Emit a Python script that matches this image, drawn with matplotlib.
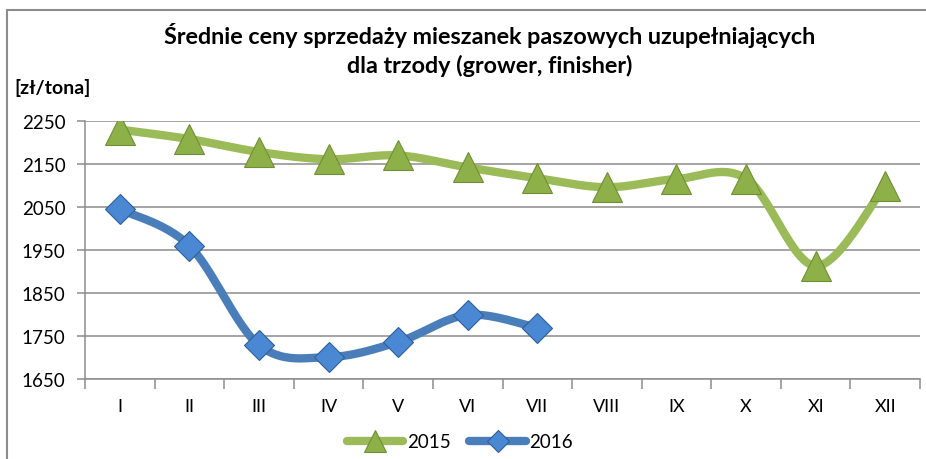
import matplotlib
matplotlib.use("Agg")
import matplotlib.pyplot as plt
import numpy as np
from matplotlib.lines import Line2D
from matplotlib.patches import Rectangle

plt.rcParams['font.family'] = ['Lato', 'DejaVu Sans']

months = ['I', 'II', 'III', 'IV', 'V', 'VI', 'VII', 'VIII', 'IX', 'X', 'XI', 'XII']
prices_2015 = [2230, 2208, 2178, 2161, 2170, 2142, 2117, 2096, 2115, 2116, 1913, 2100]
prices_2016 = [2045, 1960, 1729, 1701, 1736, 1799, 1769]

GREEN = '#9BBB59'
GREEN_DARK = '#6F8F34'
GREEN_MARK = '#8DB048'
BLUE = '#4A7EBB'
BLUE_DARK = '#2E5F99'
BLUE_MARK = '#4A88D4'


def smooth(ax, xs, ys, n=30):
    # excel-like smoothing, done in pixel space
    pts = ax.transData.transform(np.column_stack([xs, ys]))
    out = [pts[0]]
    for i in range(len(pts) - 1):
        p0 = pts[i - 1] if i > 0 else pts[i]
        p1 = pts[i]
        p2 = pts[i + 1]
        p3 = pts[i + 2] if i + 2 < len(pts) else pts[i + 1]
        c1 = p1 + (p2 - p0) / 6.0
        c2 = p2 - (p3 - p1) / 6.0
        t = np.linspace(0, 1, n)[1:, None]
        seg = ((1 - t) ** 3) * p1 + 3 * ((1 - t) ** 2) * t * c1 + 3 * (1 - t) * t ** 2 * c2 + t ** 3 * p2
        out.extend(seg)
    out = ax.transData.inverted().transform(np.array(out))
    return out[:, 0], out[:, 1]


fig = plt.figure(figsize=(9.26, 4.6), dpi=100)
ax = fig.add_axes([85 / 926, 1 - 380 / 460, 835 / 926, 258 / 460])

ax.set_xlim(-0.5, 11.5)
ax.set_ylim(1650, 2250)
ax.set_yticks(np.arange(1650, 2251, 100))
ax.yaxis.grid(True, color='#8C8C8C', linewidth=1.1)
ax.set_axisbelow(True)
ax.set_xticks(np.arange(0, 12))
ax.set_xticklabels(months)
ax.set_xticks(np.arange(-0.5, 12, 1), minor=True)
ax.tick_params(axis='x', which='major', length=0, pad=14, labelsize=13)
ax.tick_params(axis='x', which='minor', length=7, color='#8C8C8C', width=1.1)
ax.tick_params(axis='y', length=6, color='#8C8C8C', width=1.1, pad=8, labelsize=13.5)
for s in ['top', 'right']:
    ax.spines[s].set_visible(False)
ax.spines['left'].set_color('#8C8C8C')
ax.spines['bottom'].set_color('#8C8C8C')
ax.spines['left'].set_linewidth(1.1)
ax.spines['bottom'].set_linewidth(1.1)

x15 = np.arange(len(prices_2015))
x16 = np.arange(len(prices_2016))

sx, sy = smooth(ax, x15, prices_2015)
ax.plot(sx, sy, color=GREEN, linewidth=6, solid_capstyle='round', zorder=3)
sx, sy = smooth(ax, x16, prices_2016)
ax.plot(sx, sy, color=BLUE, linewidth=6, solid_capstyle='round', zorder=3)

ax.plot(x15, prices_2015, linestyle='none', marker='^', markersize=21,
        markerfacecolor=GREEN_MARK, markeredgecolor=GREEN_DARK, markeredgewidth=0.8, zorder=4)
ax.plot(x16, prices_2016, linestyle='none', marker='D', markersize=15,
        markerfacecolor=BLUE_MARK, markeredgecolor=BLUE_DARK, markeredgewidth=0.8, zorder=4)

fig.text(490 / 926, 1 - 35 / 460, 'Średnie ceny sprzedaży mieszanek paszowych uzupełniających',
         ha='center', va='center', fontsize=16.8, fontweight='bold')
fig.text(490 / 926, 1 - 66 / 460, 'dla trzody (grower, finisher)',
         ha='center', va='center', fontsize=16.8, fontweight='bold')
fig.text(14 / 926, 1 - 88 / 460, '[zł/tona]', ha='left', va='center', fontsize=14, fontweight='bold')

handles = [
    Line2D([], [], color=GREEN, linewidth=6, solid_capstyle='round', marker='^', markersize=16,
           markerfacecolor=GREEN_MARK, markeredgecolor=GREEN_DARK, markeredgewidth=0.8),
    Line2D([], [], color=BLUE, linewidth=6, solid_capstyle='round', marker='D', markersize=11,
           markerfacecolor=BLUE_MARK, markeredgecolor=BLUE_DARK, markeredgewidth=0.8),
]
fig.legend(handles, ['2015', '2016'], loc='center', bbox_to_anchor=(460 / 926, 1 - 443 / 460),
           ncol=2, frameon=False, fontsize=13.5, handlelength=3.0, handletextpad=0.2, columnspacing=1.0)

fig.patches.append(Rectangle((6.5 / 926, -0.1), 1.2, 1 - 10.5 / 460 + 0.1, transform=fig.transFigure,
                             fill=False, edgecolor='#8C8C8C', linewidth=1.5))

fig.savefig('out.png', dpi=100)
